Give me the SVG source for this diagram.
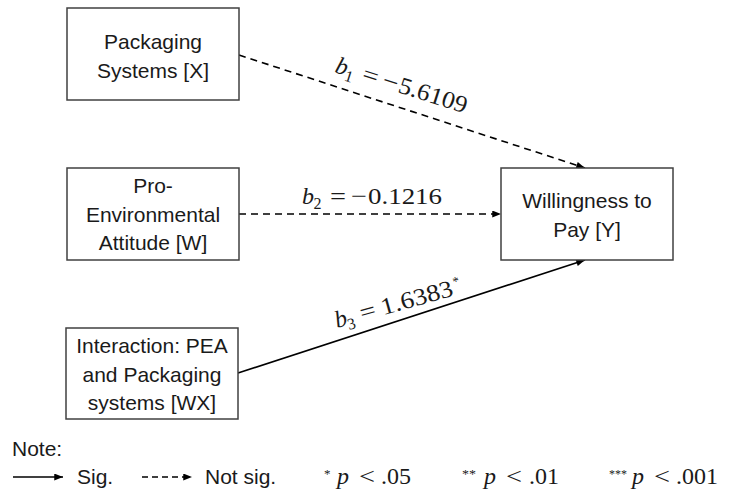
<svg xmlns="http://www.w3.org/2000/svg" width="729" height="490" viewBox="0 0 729 490">
<defs>
<style>
.box{fill:#fff;stroke:#404040;stroke-width:1.5}
.lbl{font-family:"Liberation Sans",Arial,sans-serif;font-size:21px;fill:#1a1a1a;text-anchor:middle}
.note{font-family:"Liberation Sans",Arial,sans-serif;font-size:21px;fill:#1a1a1a}
.ln{stroke:#000;stroke-width:1.6;fill:none}
.dash{stroke-dasharray:7 5}
.m{font-family:"Liberation Serif","Times New Roman",serif;font-size:24px;fill:#1a1a1a}
.i{font-style:italic}
.sub{font-family:"Liberation Serif","Times New Roman",serif;font-size:16px;fill:#1a1a1a}
.st{font-family:"Liberation Serif","Times New Roman",serif;font-size:13px;fill:#1a1a1a}
</style>
<marker id="ah" viewBox="0 0 10 8" refX="10" refY="4" markerWidth="10" markerHeight="7" markerUnits="userSpaceOnUse" orient="auto">
<path d="M0,0 L10,4 L0,8 z" fill="#000"/>
</marker>
</defs>
<rect width="729" height="490" fill="#fff"/>

<g id="connectors">
<line class="ln dash" x1="239" y1="55" x2="585" y2="168" marker-end="url(#ah)"/>
<line class="ln dash" x1="239" y1="214" x2="501" y2="214" marker-end="url(#ah)"/>
<line class="ln" x1="238" y1="373" x2="585" y2="260" marker-end="url(#ah)"/>
<g id="label-b1" transform="translate(334,72) rotate(17.6)">
<text class="m i" x="0" y="0">b</text>
<text class="sub" x="11.5" y="5">1</text>
<text class="m" x="28" y="0" textLength="16" lengthAdjust="spacingAndGlyphs">=</text>
<text class="m" x="49" y="0" textLength="16" lengthAdjust="spacingAndGlyphs">−</text>
<text class="m" x="66" y="0" textLength="71" lengthAdjust="spacingAndGlyphs">5.6109</text>
</g>
<g id="label-b2" transform="translate(302,204)">
<text class="m i" x="0" y="0">b</text>
<text class="sub" x="11.5" y="5">2</text>
<text class="m" x="28" y="0" textLength="16" lengthAdjust="spacingAndGlyphs">=</text>
<text class="m" x="49" y="0" textLength="16" lengthAdjust="spacingAndGlyphs">−</text>
<text class="m" x="66" y="0" textLength="74" lengthAdjust="spacingAndGlyphs">0.1216</text>
</g>
<g id="label-b3" transform="translate(337,328) rotate(-15.5)">
<text class="m i" x="0" y="0">b</text>
<text class="sub" x="11" y="5">3</text>
<text class="m" x="26" y="0" textLength="16" lengthAdjust="spacingAndGlyphs">=</text>
<text class="m" x="48" y="0" textLength="74" lengthAdjust="spacingAndGlyphs">1.6383</text>
<text class="st" x="124" y="-9">*</text>
</g>
</g>

<g id="node-x">
<rect class="box" x="67" y="8" width="172" height="92"/>
<text class="lbl" x="153" y="49">Packaging</text>
<text class="lbl" x="153" y="78">Systems [X]</text>
</g>
<g id="node-w">
<rect class="box" x="67" y="168" width="172" height="92"/>
<text class="lbl" x="153" y="193">Pro-</text>
<text class="lbl" x="153" y="222">Environmental</text>
<text class="lbl" x="153" y="250">Attitude [W]</text>
</g>
<g id="node-wx">
<rect class="box" x="66" y="328" width="172" height="91"/>
<text class="lbl" x="152" y="353">Interaction: PEA</text>
<text class="lbl" x="152" y="382">and Packaging</text>
<text class="lbl" x="152" y="410">systems [WX]</text>
</g>
<g id="node-y">
<rect class="box" x="501" y="168" width="172" height="92"/>
<text class="lbl" x="587" y="208">Willingness to</text>
<text class="lbl" x="587" y="237">Pay [Y]</text>
</g>

<g id="legend">
<text class="note" x="12" y="456">Note:</text>
<line class="ln" x1="13" y1="477" x2="63" y2="477" marker-end="url(#ah)"/>
<text class="note" x="77" y="484">Sig.</text>
<line class="ln" x1="142" y1="477" x2="192" y2="477" stroke-dasharray="6 4" marker-end="url(#ah)"/>
<text class="note" x="205" y="484">Not sig.</text>
<text class="st" x="324" y="478">*</text>
<text class="m i" x="337" y="484">p</text>
<text class="m" x="359" y="484" textLength="16" lengthAdjust="spacingAndGlyphs">&lt;</text>
<text class="m" x="381" y="484">.05</text>
<text class="st" x="462" y="478" textLength="14" lengthAdjust="spacingAndGlyphs">**</text>
<text class="m i" x="484" y="484">p</text>
<text class="m" x="506" y="484" textLength="16" lengthAdjust="spacingAndGlyphs">&lt;</text>
<text class="m" x="529" y="484">.01</text>
<text class="st" x="609" y="478" textLength="18" lengthAdjust="spacingAndGlyphs">***</text>
<text class="m i" x="632" y="484">p</text>
<text class="m" x="654" y="484" textLength="16" lengthAdjust="spacingAndGlyphs">&lt;</text>
<text class="m" x="676" y="484">.001</text>
</g>
</svg>
